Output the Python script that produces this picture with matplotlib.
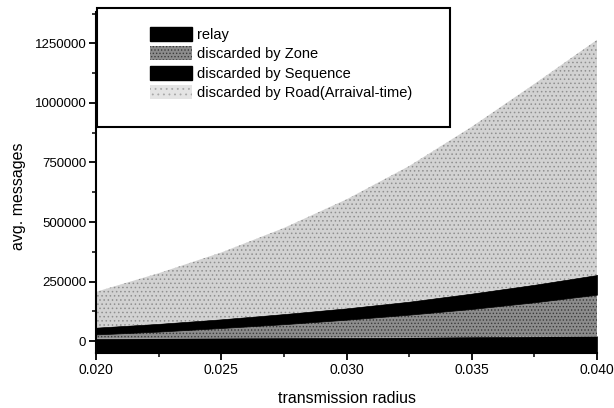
import matplotlib
matplotlib.use("Agg")
import matplotlib.pyplot as plt
from matplotlib.patches import Rectangle, Patch

plt.rcParams['font.family'] = ['Liberation Sans', 'DejaVu Sans']
plt.rcParams['hatch.linewidth'] = 0.6

radius = [0.020, 0.0225, 0.025, 0.0275, 0.030, 0.0325, 0.035, 0.0375, 0.040]
# cumulative tops of each stacked layer
relay_top = [10000, 11000, 12000, 13000, 14000, 15000, 17000, 19000, 20000]
zone_top = [28000, 40000, 55000, 71000, 90000, 111000, 135000, 163000, 195000]
sequence_top = [57000, 73000, 92000, 114000, 138000, 166000, 200000, 237000, 278000]
road_top = [207000, 285000, 372000, 475000, 595000, 735000, 900000, 1080000, 1265000]

labels = ['relay', 'discarded by Zone', 'discarded by Sequence',
          'discarded by Road(Arraival-time)']

ymin, ymax = -50000, 1382000

fig = plt.figure(figsize=(6.14, 4.08), dpi=100)
ax = fig.add_axes([96 / 614, 1 - 353 / 408, (597 - 96) / 614, (353 - 12) / 408])

ax.fill_between(radius, ymin, relay_top, facecolor='black', edgecolor='black', lw=0.5)
ax.fill_between(radius, relay_top, zone_top, facecolor='#8c8c8c', edgecolor='#3a3a3a',
                hatch='.....', lw=0)
ax.fill_between(radius, zone_top, sequence_top, facecolor='black', edgecolor='black', lw=0.5)
ax.fill_between(radius, sequence_top, road_top, facecolor='#d2d2d2', edgecolor='#8f8f8f',
                hatch='....', lw=0)

ax.set_xlim(0.020, 0.040)
ax.set_ylim(ymin, ymax)
ax.set_xticks([0.020, 0.025, 0.030, 0.035, 0.040])
ax.set_xticks([0.0225, 0.0275, 0.0325, 0.0375], minor=True)
ax.set_xticklabels(['0.020', '0.025', '0.030', '0.035', '0.040'])
ax.set_yticks([0, 250000, 500000, 750000, 1000000, 1250000])
ax.set_yticks([125000, 375000, 625000, 875000, 1125000, 1375000], minor=True)
ax.set_yticklabels(['0', '250000', '500000', '750000', '1000000', '1250000'])

ax.spines['top'].set_visible(False)
ax.spines['right'].set_visible(False)
for s in ('left', 'bottom'):
    ax.spines[s].set_linewidth(1.5)
ax.tick_params(which='major', direction='out', length=5, width=1.3, labelsize=9.5, pad=2)
ax.tick_params(axis='x', labelsize=10)
ax.tick_params(which='minor', direction='out', length=3, width=1.1)

ax.set_xlabel('transmission radius', fontsize=11.5, labelpad=10)
ax.set_ylabel('avg. messages', fontsize=11.5)
ax.yaxis.set_label_coords(-0.14, 0.46)

# legend box
box = Rectangle((97 / 614, 1 - 127 / 408), (450 - 97) / 614, (127 - 8) / 408,
                transform=fig.transFigure, facecolor='white', edgecolor='black',
                lw=1.5, zorder=5)
fig.patches.append(box)

handles = [
    Patch(facecolor='black', edgecolor='black'),
    Patch(facecolor='#8c8c8c', edgecolor='#3a3a3a', hatch='.....', lw=0),
    Patch(facecolor='black', edgecolor='black'),
    Patch(facecolor='#e4e4e4', edgecolor='#a8a8a8', hatch='...', lw=0),
]
leg = fig.legend(handles, labels, loc='upper left', bbox_to_anchor=(150 / 614, 1 - 27 / 408),
                 frameon=False, fontsize=10.5, handlelength=2.9, handleheight=1.1,
                 handletextpad=0.35, labelspacing=0.3, borderpad=0, borderaxespad=0)
leg.set_zorder(6)

fig.savefig('out.png', dpi=100)
